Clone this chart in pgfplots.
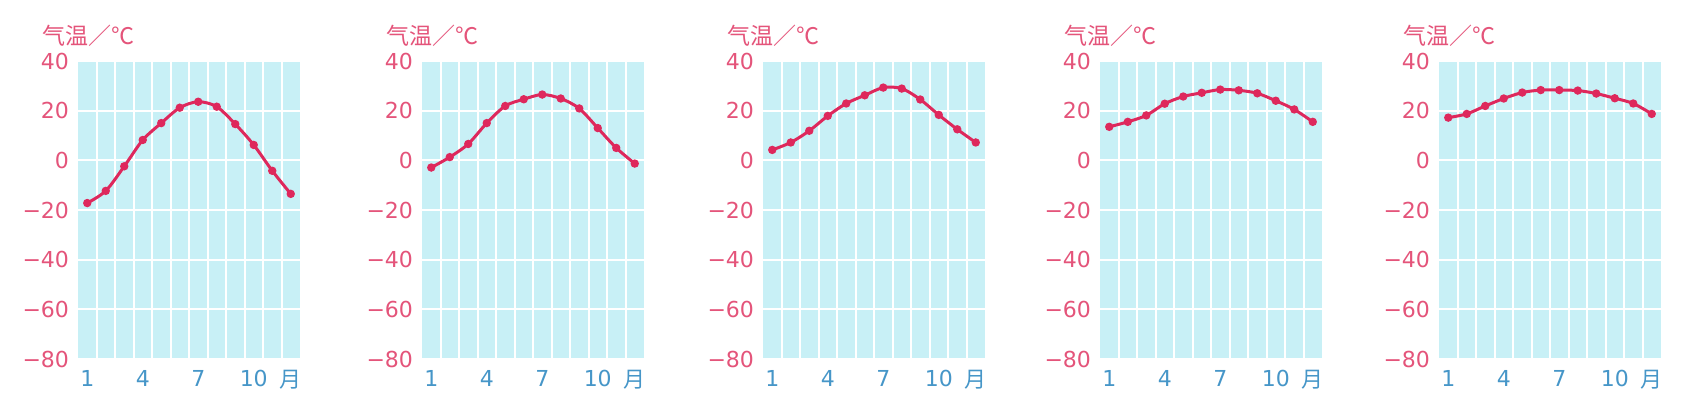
\documentclass[border=0pt]{standalone}
\usepackage{fontspec}
\setmainfont{DejaVu Sans}
\newfontfamily\cjk{Noto Sans CJK SC}
\usepackage{pgfplots}
\pgfplotsset{compat=1.18}

\definecolor{bgc}{RGB}{200,240,246}
\definecolor{linec}{RGB}{222,40,92}
\definecolor{pinkt}{RGB}{228,84,122}
\definecolor{bluet}{RGB}{70,150,200}

\pgfplotsset{
  climate/.style={
    width=111pt, height=149pt, scale only axis,
    anchor=south west,
    xmin=0.5, xmax=12.5, ymin=-80, ymax=40,
    axis line style={draw=none},
    axis background/.style={fill=bgc},
    xtick={1,4,7,10,12}, xticklabels={1,4,7,10,{\cjk 月}},
    ytick={-80,-60,-40,-20,0,20,40},
    yticklabels={−80,−60,−40,−20,0,20,40},
    minor xtick={1.5,2.5,...,11.5},
    ymajorgrids, xminorgrids,
    major grid style={white, line width=1pt},
    minor grid style={white, line width=1pt},
    major tick length=0pt, minor tick length=0pt,
    x tick label style={font=\fontsize{11}{12}\selectfont, text=bluet, yshift=-2pt},
    y tick label style={font=\fontsize{11}{12}\selectfont, text=pinkt, xshift=-1pt},
    title={\cjk 气温／℃},
    title style={at={(0,1)}, anchor=west, xshift=-18pt, yshift=6.5pt,
      font=\fontsize{11.5}{12}\selectfont, text=pinkt, inner sep=0pt},
  },
  tline/.style={color=linec, line width=1.5pt, smooth, tension=0.5,
    mark=*, mark size=1.3pt, mark options={fill=linec}},
}

\begin{document}
\begin{tikzpicture}
\path[use as bounding box] (0,0) rectangle (849.5pt,203.5pt);

\begin{axis}[climate, at={(39pt,24pt)}]
\addplot[tline] coordinates {(1,-17.2)(2,-12.3)(3,-2.4)(4,8.2)(5,15)(6,21.2)
  (7,23.6)(8,21.6)(9,14.6)(10,6.2)(11,-4.2)(12,-13.5)};
\end{axis}

\begin{axis}[climate, at={(211pt,24pt)}]
\addplot[tline] coordinates {(1,-2.9)(2,1.3)(3,6.6)(4,15)(5,21.9)(6,24.6)
  (7,26.5)(8,24.9)(9,20.9)(10,13)(11,5)(12,-1.3)};
\end{axis}

\begin{axis}[climate, at={(381.5pt,24pt)}]
\addplot[tline] coordinates {(1,4.2)(2,7.2)(3,11.9)(4,17.9)(5,22.9)(6,26.2)
  (7,29.3)(8,28.9)(9,24.5)(10,18.3)(11,12.5)(12,7.2)};
\end{axis}

\begin{axis}[climate, at={(550pt,24pt)}]
\addplot[tline] coordinates {(1,13.5)(2,15.5)(3,18.1)(4,22.8)(5,25.7)(6,27.2)
  (7,28.5)(8,28.2)(9,27)(10,24)(11,20.5)(12,15.5)};
\end{axis}

\begin{axis}[climate, at={(719.5pt,24pt)}]
\addplot[tline] coordinates {(1,17.2)(2,18.7)(3,21.9)(4,24.9)(5,27.3)(6,28.3)
  (7,28.3)(8,28.1)(9,26.9)(10,25)(11,22.9)(12,18.7)};
\end{axis}
\end{tikzpicture}
\end{document}
